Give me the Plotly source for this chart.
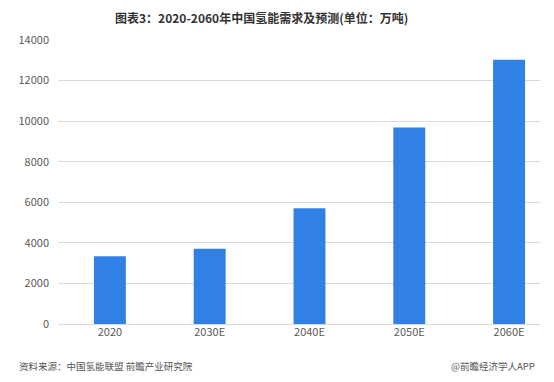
import plotly.graph_objects as go

categories = ["2020", "2030E", "2040E", "2050E", "2060E"]
demand = [3342, 3715, 5700, 9690, 13030]
y_ticks = [0, 2000, 4000, 6000, 8000, 10000, 12000, 14000]

font_cjk = "Noto Sans CJK SC, Microsoft YaHei, sans-serif"

W, H = 554, 382
left, right, top, bottom = 58, 14, 40, 58
pw = W - left - right
ph = H - top - bottom


def px(x):
    return (x - left) / pw


def py(y_from_top):
    return (H - y_from_top - bottom) / ph


fig = go.Figure()
fig.add_trace(go.Bar(
    x=list(range(len(categories))),
    y=demand,
    width=0.32,
    marker=dict(color="#3180E6", line=dict(width=0)),
    hoverinfo="skip",
))

fig.update_layout(
    width=W, height=H,
    margin=dict(l=left, r=right, t=top, b=bottom, autoexpand=False),
    paper_bgcolor="white", plot_bgcolor="white",
    showlegend=False,
    hovermode=False,
    font=dict(family=font_cjk, color="#595959", size=11),
    xaxis=dict(
        range=[-0.52, 4.31],
        tickmode="array",
        tickvals=list(range(len(categories))),
        ticktext=categories,
        showgrid=False, zeroline=False, showline=False,
        ticks="", tickfont=dict(size=11, color="#595959"),
    ),
    yaxis=dict(
        range=[0, 14000],
        tickmode="array",
        tickvals=y_ticks,
        ticktext=[str(v) for v in y_ticks],
        showgrid=True, gridcolor="#D9D9D9", gridwidth=1,
        zeroline=True, zerolinecolor="#D9D9D9", zerolinewidth=1,
        showline=False, ticks="", ticklabelstandoff=8,
        tickfont=dict(size=11, color="#595959"),
    ),
    annotations=[
        dict(text="<b>图表3：2020-2060年中国氢能需求及预测(单位：万吨)</b>",
             x=px(261), y=py(17), xref="paper", yref="paper",
             xanchor="center", yanchor="middle", showarrow=False,
             font=dict(size=12, color="#333333", family=font_cjk)),
        dict(text="资料来源：中国氢能联盟 前瞻产业研究院",
             x=px(17), y=py(366), xref="paper", yref="paper",
             xanchor="left", yanchor="middle", showarrow=False,
             font=dict(size=9.5, color="#555555", family=font_cjk)),
        dict(text="@前瞻经济学人APP",
             x=px(537), y=py(366), xref="paper", yref="paper",
             xanchor="right", yanchor="middle", showarrow=False,
             font=dict(size=9.5, color="#555555", family=font_cjk)),
    ],
)

fig.write_html("out.html",
               config={"displayModeBar": False, "staticPlot": True},
               post_script="document.body.style.margin='0';document.body.style.overflow='hidden';")
